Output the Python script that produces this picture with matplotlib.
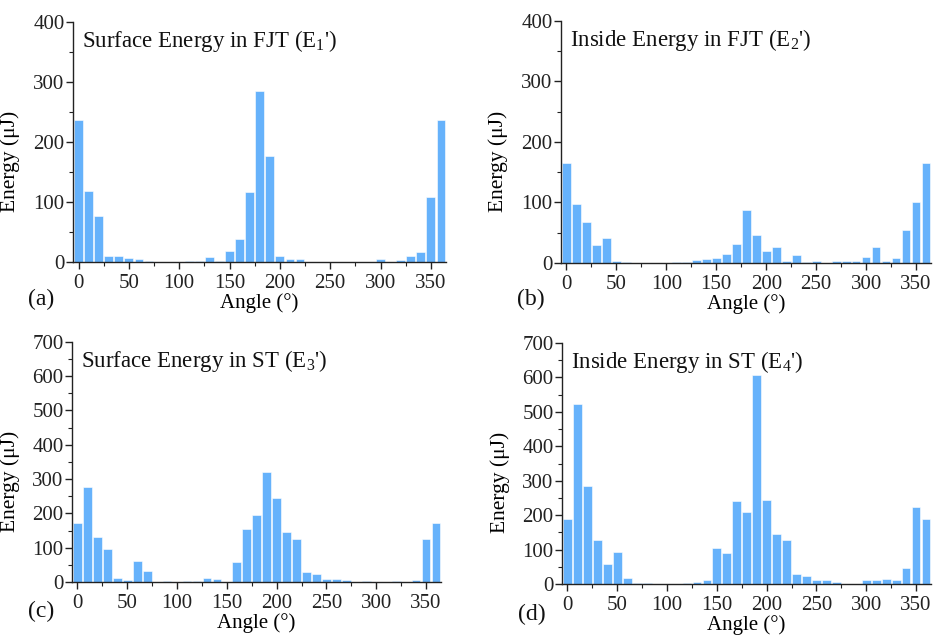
import numpy as np
import matplotlib
matplotlib.use("Agg")
import matplotlib.pyplot as plt
from matplotlib.ticker import MultipleLocator

plt.rcParams['font.family'] = ['Liberation Serif', 'DejaVu Serif']
plt.rcParams['mathtext.fontset'] = 'custom'
plt.rcParams['mathtext.rm'] = 'Liberation Serif'
plt.rcParams['mathtext.it'] = 'Liberation Serif:italic'

angles = list(range(0, 361, 10))

e1_surface_fjt = [236, 119, 76, 10, 10, 7, 4.5, 1, 0.5, 0.3, 0.5, 1, 1.2, 9, 1.5, 19, 38,
                  116, 285, 176, 10, 4.5, 5, 0.7, 0.5, 0.2, 0.2, 0.2, 0.2, 0.5, 5, 0.7,
                  2.8, 10, 16, 109, 236]
e2_inside_fjt = [165, 98, 68, 30, 41, 2.7, 1, 0.3, 0.2, 0.2, 0.2, 2, 2, 5.5, 7, 9, 15,
                 31, 87, 47, 19, 27, 4, 13, 1.5, 4, 0.5, 4, 2.5, 2.5, 10, 27, 2.5, 9,
                 55, 100, 165]
e3_surface_st = [173, 277, 132, 97, 11, 6, 61, 31, 0.5, 2, 0.5, 1.5, 3.5, 12.5, 8, 0.3,
                 57, 155, 195, 320, 244, 145, 126, 29, 23, 10, 10, 5, 1, 3, 0.5, 0.5,
                 3, 0.5, 5, 125, 173]
e4_inside_st = [188, 524, 285, 127, 58, 92, 17.5, 3, 3, 0.5, 0.5, 0.5, 3, 6, 12.6, 105,
                91, 240, 209, 607, 244, 145, 127, 30, 23, 10.7, 10.7, 6, 0.5, 0.5, 12.6,
                12.6, 15.5, 10.7, 45.6, 224, 188]

titles = ["Surface Energy in FJT (E$_1$')", "Inside Energy in FJT (E$_2$')",
          "Surface Energy in ST (E$_3$')", "Inside Energy in ST (E$_4$')"]
panel_tags = ["(a)", "(b)", "(c)", "(d)"]
ymax = [400, 400, 700, 700]
series = [e1_surface_fjt, e2_inside_fjt, e3_surface_st, e4_inside_st]

W, H = 933, 635
fig = plt.figure(figsize=(W / 100, H / 100), dpi=100)

# axes boxes in pixels: left, right, top, bottom
boxes = [(73, 446, 21.7, 262), (561, 931, 20.7, 263),
         (72, 441, 341.7, 582), (562, 931, 343, 584)]
tag_pos = [(41, 299), (531, 299), (41, 611), (532, 614)]

bar_color = '#66b2fb'

for i in range(4):
    l, r, t, b = boxes[i]
    ax = fig.add_axes([l / W, 1 - b / H, (r - l) / W, (b - t) / H])
    ax.bar(angles, series[i], width=8.8, color=bar_color, edgecolor='white',
           linewidth=0.4)
    ax.set_xlim(-5.5, 365)
    ax.set_ylim(0, ymax[i])
    ax.spines['top'].set_visible(False)
    ax.spines['right'].set_visible(False)
    for s in ['left', 'bottom']:
        ax.spines[s].set_linewidth(1.0)
        ax.spines[s].set_color('#222222')
    ax.xaxis.set_major_locator(MultipleLocator(50))
    ax.xaxis.set_minor_locator(MultipleLocator(25))
    ax.yaxis.set_major_locator(MultipleLocator(100))
    ax.yaxis.set_minor_locator(MultipleLocator(50))
    ax.tick_params(which='major', direction='out', length=5, width=1,
                   labelsize=15, pad=1, colors='#222222')
    ax.tick_params(axis='x', which='major', pad=3.5)
    ax.tick_params(which='minor', direction='out', length=3, width=0.8,
                   colors='#222222')
    ax.set_xlabel("Angle (°)", fontsize=15, labelpad=0)
    ax.set_ylabel("Energy (μJ)", fontsize=15.5)
    ax.yaxis.set_label_coords(-0.142, 0.42)
    ax.text(0.025, 0.975, titles[i], transform=ax.transAxes, ha='left', va='top',
            fontsize=16.5, color='#111111')
    fig.text(tag_pos[i][0] / W, 1 - tag_pos[i][1] / H, panel_tags[i],
             fontsize=17, ha='center', va='center', color='#111111')

fig.savefig("out.png", dpi=100)
